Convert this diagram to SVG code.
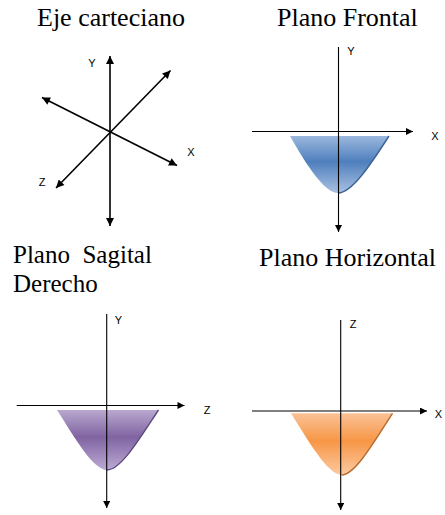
<svg xmlns="http://www.w3.org/2000/svg" width="445" height="515" viewBox="0 0 445 515">
<style>
.title{font-family:"Liberation Serif","Times New Roman",serif;font-size:26px;fill:#000}
.title2{font-family:"Liberation Serif","Times New Roman",serif;font-size:25px;fill:#000}
.lbl{font-family:"Liberation Sans",Arial,sans-serif;font-size:11px;fill:#000;text-anchor:middle;dominant-baseline:central}
.ax{stroke:#000;stroke-width:1.1;fill:none}
.ax3{stroke:#000;stroke-width:1.6;fill:none}
</style>
<defs>
<marker id="ah" viewBox="0 0 10 10" refX="10" refY="5" markerWidth="8" markerHeight="7" markerUnits="userSpaceOnUse" orient="auto-start-reverse">
<path d="M0,0 L10,5 L0,10 z" fill="#000"/>
</marker>
<marker id="ah3" viewBox="0 0 10 10" refX="10" refY="5" markerWidth="10" markerHeight="8" markerUnits="userSpaceOnUse" orient="auto-start-reverse">
<path d="M0,0 L10,5 L0,10 z" fill="#000"/>
</marker>
<linearGradient id="gBlue" x1="0" y1="0" x2="0" y2="1">
<stop offset="0" stop-color="#9bb8dd"/>
<stop offset="0.45" stop-color="#4f7fbd"/>
<stop offset="1" stop-color="#a9c1e2"/>
</linearGradient>
<linearGradient id="gPurple" x1="0" y1="0" x2="0" y2="1">
<stop offset="0" stop-color="#b9a8cf"/>
<stop offset="0.45" stop-color="#8064a2"/>
<stop offset="1" stop-color="#bcaad3"/>
</linearGradient>
<linearGradient id="gOrange" x1="0" y1="0" x2="0" y2="1">
<stop offset="0" stop-color="#fbc296"/>
<stop offset="0.45" stop-color="#f79646"/>
<stop offset="1" stop-color="#fccaa2"/>
</linearGradient>
</defs>

<g id="titles">
<text class="title" x="37" y="26">Eje carteciano</text>
<text class="title" x="277" y="26">Plano Frontal</text>
<text class="title2" x="13" y="263" xml:space="preserve">Plano  Sagital</text>
<text class="title2" x="13" y="292">Derecho</text>
<text class="title" x="259" y="266">Plano Horizontal</text>
</g>

<g id="eje-carteciano">
<g id="connectors-eje">
<line class="ax3" x1="110" y1="56" x2="110" y2="226" marker-start="url(#ah3)" marker-end="url(#ah3)"/>
<line class="ax3" x1="42" y1="97.5" x2="177" y2="165.5" marker-start="url(#ah3)" marker-end="url(#ah3)"/>
<line class="ax3" x1="56" y1="188" x2="170.5" y2="70.5" marker-start="url(#ah3)" marker-end="url(#ah3)"/>
</g>
<text class="lbl" x="92" y="63">Y</text>
<text class="lbl" x="191" y="152">X</text>
<text class="lbl" x="42" y="182">Z</text>
</g>

<g id="plano-frontal">
<path d="M290,136 H389 C371,164 352,193 338,193 C324,193 306,164 290,136 Z" fill="url(#gBlue)"/>
<path d="M389,136 C371,164 352,193 338,193" fill="none" stroke="#3d6394" stroke-width="1.4"/>
<g id="connectors-frontal">
<line class="ax" x1="338.5" y1="47" x2="338.5" y2="232" marker-end="url(#ah)"/>
<line class="ax" x1="252" y1="131.5" x2="413" y2="131.5" marker-end="url(#ah)"/>
</g>
<text class="lbl" x="351" y="51">Y</text>
<text class="lbl" x="435" y="136">X</text>
</g>

<g id="plano-sagital">
<path d="M57,410 H158.5 C140,438 121,470 107,470 C93,470 75,438 57,410 Z" fill="url(#gPurple)"/>
<path d="M158.5,410 C140,438 121,470 107,470" fill="none" stroke="#5f4a80" stroke-width="1.4"/>
<g id="connectors-sagital">
<line class="ax" x1="106.7" y1="314" x2="106.7" y2="508" marker-end="url(#ah)"/>
<line class="ax" x1="16.7" y1="405.5" x2="184.5" y2="405.5" marker-end="url(#ah)"/>
</g>
<text class="lbl" x="118.5" y="320">Y</text>
<text class="lbl" x="207" y="410">Z</text>
</g>

<g id="plano-horizontal">
<path d="M291,413.3 H392.5 C374,442 355,475 341.7,475 C328,475 309,442 291,413.3 Z" fill="url(#gOrange)"/>
<path d="M392.5,413.3 C374,442 355,475 341.7,475" fill="none" stroke="#b86a2c" stroke-width="1.4"/>
<g id="connectors-horizontal">
<line class="ax" x1="340.7" y1="320" x2="340.7" y2="510" marker-end="url(#ah)"/>
<line class="ax" x1="252" y1="411" x2="427" y2="411" marker-end="url(#ah)"/>
</g>
<text class="lbl" x="353" y="324">Z</text>
<text class="lbl" x="438.5" y="414">X</text>
</g>
</svg>
